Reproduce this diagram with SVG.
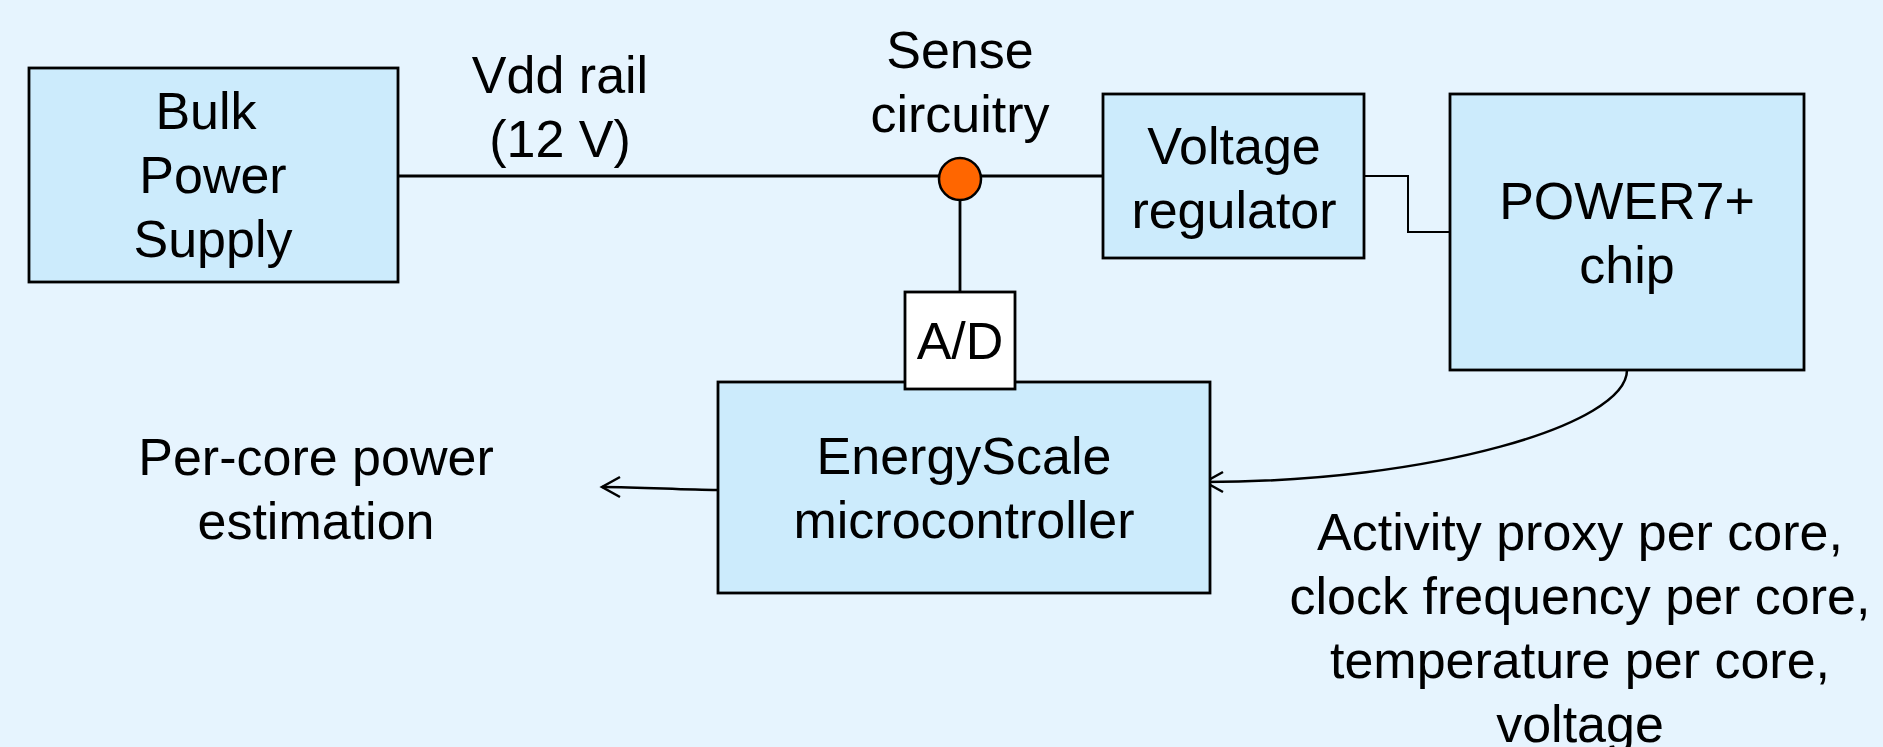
<svg xmlns="http://www.w3.org/2000/svg" width="1883" height="747" viewBox="0 0 1883 747">
<style>
.bg{fill:#E6F4FE}
.box{fill:#CCEBFC;stroke:#000;stroke-width:2.8}
.wbox{fill:#FFFFFF;stroke:#000;stroke-width:2.8}
.t{font-family:"Liberation Sans",Arial,Helvetica,sans-serif;font-size:52px;fill:#000;text-anchor:middle}
.w{fill:none;stroke:#000;stroke-width:2.8}
.w2{fill:none;stroke:#000;stroke-width:2}
.arr{fill:none;stroke:#000;stroke-width:2.5;marker-end:url(#open)}
</style>
<defs>
<marker id="open" viewBox="-22 -13 26 26" refX="0" refY="0" markerWidth="26" markerHeight="26" markerUnits="userSpaceOnUse" orient="auto">
<path d="M-18,-10 L0,0 L-18,10" fill="none" stroke="#000" stroke-width="2.5"/>
</marker>
</defs>
<rect class="bg" x="0" y="0" width="1883" height="747"/>
<g id="connectors">
<path class="w" d="M398,176 H1103"/>
<path class="w" d="M960,200 V292"/>
<path class="w2" d="M1364,176 H1408 V232 H1450"/>
<path class="arr" d="M718,490 C680,490 645,487 602,487"/>
<path class="arr" d="M1627,370 C1627,425 1430,482 1205,482"/>
</g>
<g id="bulk-power-supply">
<rect class="box" x="29" y="68" width="369" height="214"/>
<text class="t" x="206" y="129">Bulk</text>
<text class="t" x="213" y="193">Power</text>
<text class="t" x="213" y="257">Supply</text>
</g>
<g id="vdd-rail-label">
<text class="t" x="560" y="93">Vdd rail</text>
<text class="t" x="560" y="157">(12 V)</text>
</g>
<g id="sense-circuitry">
<text class="t" x="960" y="68">Sense</text>
<text class="t" x="960" y="132">circuitry</text>
<circle cx="960" cy="179" r="21" fill="#FF6600" stroke="#000" stroke-width="2.5"/>
</g>
<g id="voltage-regulator">
<rect class="box" x="1103" y="94" width="261" height="164"/>
<text class="t" x="1234" y="164">Voltage</text>
<text class="t" x="1234" y="228">regulator</text>
</g>
<g id="power7-chip">
<rect class="box" x="1450" y="94" width="354" height="276"/>
<text class="t" x="1627" y="219">POWER7+</text>
<text class="t" x="1627" y="283">chip</text>
</g>
<g id="energyscale-microcontroller">
<rect class="box" x="718" y="382" width="492" height="211"/>
<text class="t" x="964" y="474">EnergyScale</text>
<text class="t" x="964" y="538">microcontroller</text>
</g>
<g id="ad-converter">
<rect class="wbox" x="905" y="292" width="110" height="97"/>
<text class="t" x="960" y="359">A/D</text>
</g>
<g id="per-core-label">
<text class="t" x="316" y="475">Per-core power</text>
<text class="t" x="316" y="539">estimation</text>
</g>
<g id="inputs-label">
<text class="t" x="1580" y="550">Activity proxy per core,</text>
<text class="t" x="1580" y="614">clock frequency per core,</text>
<text class="t" x="1580" y="678">temperature per core,</text>
<text class="t" x="1580" y="742">voltage</text>
</g>
</svg>
